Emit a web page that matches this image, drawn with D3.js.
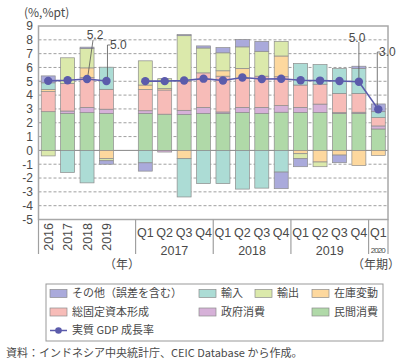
<!DOCTYPE html>
<html>
<head>
<meta charset="utf-8">
<script src="https://cdn.jsdelivr.net/npm/d3@7"></script>
<style>
  body { margin: 0; background: #fff; }
  text { font-family: "Noto Sans CJK JP", "Noto Sans", sans-serif; fill: #4a4a4a; }
  text.num { font-family: "Liberation Sans", Arial, sans-serif; }
</style>
</head>
<body>
<div id="chart"></div>
<script>
// Periods (annual + quarterly)
var periods = ["2016", "2017", "2018", "2019",
  "2017Q1", "2017Q2", "2017Q3", "2017Q4",
  "2018Q1", "2018Q2", "2018Q3", "2018Q4",
  "2019Q1", "2019Q2", "2019Q3", "2019Q4",
  "2020Q1"];
var annualLabels = ["2016", "2017", "2018", "2019"];
var quarterLabels = ["Q1", "Q2", "Q3", "Q4", "Q1", "Q2", "Q3", "Q4", "Q1", "Q2", "Q3", "Q4", "Q1"];
var yearGroups = [
  {label: "2017", first: "2017Q1", last: "2017Q4"},
  {label: "2018", first: "2018Q1", last: "2018Q4"},
  {label: "2019", first: "2019Q1", last: "2019Q4"},
  {label: "2020", first: "2020Q1", last: "2020Q1"}
];
var yTicks = [9, 8, 7, 6, 5, 4, 3, 2, 1, 0, -1, -2, -3, -4, -5];

// Contributions (%pt)
var privateCons = [2.8, 2.68, 2.73, 2.68, 2.68, 2.62, 2.6, 2.68, 2.68, 2.75, 2.68, 2.76, 2.75, 2.75, 2.68, 2.68, 1.55];
var government  = [0, 0.17, 0.38, 0.3, 0.19, -0.12, 0.3, 0.43, 0.1, 0.36, 0.43, 0.48, 0.36, 0.6, 0.05, 0.08, 0.22];
var gfcf        = [1.45, 2.0, 2.16, 1.44, 1.54, 1.75, 2.1, 2.5, 2.59, 2.1, 2.26, 2.09, 1.62, 1.44, 1.39, 1.36, 0.6];
var inventory   = [0.16, 0, 0.7, -0.6, 0.32, 0.1, -0.6, 0, 0.39, 0.72, 0, 1.5, -0.24, -0.84, -0.34, -1.1, -0.36];
var exportsC    = [-0.4, 1.85, 1.4, -0.15, 1.75, 0.72, 3.3, 1.8, 1.3, 1.56, 1.8, 1.06, -0.36, -0.34, 0, 0, 0];
var importsC    = [0.48, -1.6, -2.35, 1.6, -0.9, 0, -2.77, -2.4, -2.4, -2.8, -2.73, -1.57, 1.56, 1.42, 1.8, 1.8, 0.43];
var other       = [0.5, 0, 0.1, -0.25, -0.6, 0, 0.08, 0.15, 0.38, 0.53, 0.72, -1.2, -0.58, 0, -0.55, 0.17, 0.56];
// Real GDP growth (%)
var gdp = [5.03, 5.07, 5.17, 5.02, 5.01, 5.01, 5.06, 5.19, 5.06, 5.27, 5.17, 5.18, 5.07, 5.05, 5.02, 4.97, 2.97];

var series = [
  {key: "private", name: "民間消費", values: privateCons, color: "#b0d9a8"},
  {key: "gov", name: "政府消費", values: government, color: "#d6b1d8"},
  {key: "gfcf", name: "総固定資本形成", values: gfcf, color: "#f7bcb8"},
  {key: "inv", name: "在庫変動", values: inventory, color: "#fdd89e"},
  {key: "exp", name: "輸出", values: exportsC, color: "#dbe9ab"},
  {key: "imp", name: "輸入", values: importsC, color: "#acdcd5"},
  {key: "other", name: "その他（誤差を含む）", values: other, color: "#aaaadb"}
];

// Table for d3.stack
var table = periods.map(function(p, i) {
  var row = {period: p};
  series.forEach(function(s) { row[s.key] = s.values[i]; });
  return row;
});

var width = 400, height = 360;
var plot = {left: 38.5, right: 388, top: 26, bottom: 219.5};

var svg = d3.select("#chart").append("svg")
    .attr("width", width)
    .attr("height", height);

// x: band scale with one empty slot between annual and quarterly
var slots = periods.slice(0, 4).concat(["gap"]).concat(periods.slice(4));
var x = d3.scaleBand()
    .domain(slots)
    .range([plot.left, plot.right])
    .paddingInner(0.28)
    .paddingOuter(0.14);

var y = d3.scaleLinear()
    .domain([-5, 9])
    .range([plot.bottom, plot.top]);

// Grid lines
svg.append("g").selectAll("line")
    .data(yTicks.filter(function(d) { return d !== 9 && d !== -5; }))
  .enter().append("line")
    .attr("x1", plot.left).attr("x2", plot.right)
    .attr("y1", function(d) { return y(d); })
    .attr("y2", function(d) { return y(d); })
    .attr("stroke", "#888")
    .attr("stroke-width", function(d) { return d === 0 ? 1 : 0.8; })
    .attr("stroke-dasharray", function(d) { return d === 0 ? null : "3,2"; });

// Y tick labels
svg.append("g").selectAll("text")
    .data(yTicks)
  .enter().append("text")
    .attr("class", "num")
    .attr("x", 33)
    .attr("y", function(d) { return y(d); })
    .attr("dy", "0.36em")
    .attr("text-anchor", "end")
    .style("font-size", "12px")
    .text(function(d) { return d; });

svg.append("text")
    .attr("x", 24).attr("y", 17)
    .style("font-size", "12px")
    .text("(%,%pt)");

// Stacked bars
var stack = d3.stack()
    .keys(series.map(function(s) { return s.key; }))
    .offset(d3.stackOffsetDiverging);
var stacked = stack(table);

svg.append("g").selectAll("g")
    .data(stacked)
  .enter().append("g")
    .attr("fill", function(d, i) { return series[i].color; })
  .selectAll("rect")
    .data(function(d) { return d.filter(function(v) { return v[1] - v[0] !== 0; }); })
  .enter().append("rect")
    .attr("x", function(d) { return x(d.data.period); })
    .attr("width", x.bandwidth())
    .attr("y", function(d) { return y(d[1]); })
    .attr("height", function(d) { return y(d[0]) - y(d[1]); })
    .attr("stroke", "#8c8c8c")
    .attr("stroke-width", 0.7);

// Frame
svg.append("rect")
    .attr("x", plot.left).attr("y", plot.top)
    .attr("width", plot.right - plot.left)
    .attr("height", plot.bottom - plot.top)
    .attr("fill", "none")
    .attr("stroke", "#a8a8a8")
    .attr("stroke-width", 1.5);

// GDP line: annual and quarterly drawn separately
var line = d3.line()
    .x(function(d) { return x(d.period) + x.bandwidth() / 2; })
    .y(function(d) { return y(d.value); });
var gdpPts = periods.map(function(p, i) { return {period: p, value: gdp[i]}; });
[gdpPts.slice(0, 4), gdpPts.slice(4)].forEach(function(seg) {
  svg.append("path")
      .datum(seg)
      .attr("d", line)
      .attr("fill", "none")
      .attr("stroke", "#5b5bab")
      .attr("stroke-width", 1.6);
});
svg.append("g").selectAll("circle")
    .data(gdpPts)
  .enter().append("circle")
    .attr("cx", function(d) { return x(d.period) + x.bandwidth() / 2; })
    .attr("cy", function(d) { return y(d.value); })
    .attr("r", 4.2)
    .attr("fill", "#5b5bab");

// Value callouts
function cx(p) { return x(p) + x.bandwidth() / 2; }
var callouts = [
  {period: "2018", text: "5.2", tx: 95, ty: 35, path: function(p) { return "M" + (cx(p) + 6) + ",40L" + (cx(p) + 1) + "," + (y(gdp[2]) - 4); }, anchor: "middle"},
  {period: "2019", text: "5.0", tx: 110, ty: 45, path: function(p) { return "M" + (cx(p) + 4) + ",45H" + (cx(p) + 1) + "V" + (y(gdp[3]) - 4); }, anchor: "start"},
  {period: "2019Q4", text: "5.0", tx: 357, ty: 38, path: function(p) { return "M" + cx(p) + ",42V" + (y(gdp[15]) - 4); }, anchor: "middle"},
  {period: "2020Q1", text: "3.0", tx: 379, ty: 52, path: function(p) { return "M" + (cx(p) + 2) + ",52H" + (cx(p) - 1) + "V" + (y(gdp[16]) - 4); }, anchor: "start"}
];
callouts.forEach(function(c) {
  svg.append("path")
      .attr("d", c.path(c.period))
      .attr("fill", "none")
      .attr("stroke", "#555")
      .attr("stroke-width", 0.8);
  svg.append("text")
      .attr("class", "num")
      .attr("x", c.tx).attr("y", c.ty)
      .attr("dy", "0.36em")
      .attr("text-anchor", c.anchor)
      .style("font-size", "12px")
      .text(c.text);
});

// X axis: separators
var axisBottom = 254;
var seps = [plot.left, x("2017Q1") - x.step() * x.paddingInner() / 2];
yearGroups.forEach(function(g) {
  seps.push(x(g.last) + x.bandwidth() + x.step() * x.paddingInner() / 2);
});
seps[seps.length - 1] = plot.right;
svg.append("g").selectAll("line")
    .data(seps)
  .enter().append("line")
    .attr("x1", function(d) { return d; }).attr("x2", function(d) { return d; })
    .attr("y1", plot.bottom).attr("y2", axisBottom)
    .attr("stroke", "#a0a0a0")
    .attr("stroke-width", 1.2);

// Annual labels (rotated)
svg.append("g").selectAll("text")
    .data(annualLabels)
  .enter().append("text")
    .attr("class", "num")
    .attr("transform", function(d) { return "translate(" + (cx(d) + 4.5) + ",223) rotate(-90)"; })
    .attr("text-anchor", "end")
    .style("font-size", "12.5px")
    .text(function(d) { return d; });

// Quarter labels
svg.append("g").selectAll("text")
    .data(periods.slice(4))
  .enter().append("text")
    .attr("class", "num")
    .attr("x", function(d) { return cx(d); })
    .attr("y", 232)
    .attr("dy", "0.36em")
    .attr("text-anchor", "middle")
    .style("font-size", "12.5px")
    .text(function(d, i) { return quarterLabels[i]; });

// Year group labels
svg.append("g").selectAll("text")
    .data(yearGroups)
  .enter().append("text")
    .attr("class", "num")
    .attr("x", function(d) { return (x(d.first) + x(d.last) + x.bandwidth()) / 2; })
    .attr("y", 250)
    .attr("dy", "0.36em")
    .attr("text-anchor", "middle")
    .style("font-size", function(d) { return d.label === "2020" ? "8px" : "12.5px"; })
    .attr("textLength", function(d) { return d.label === "2020" ? 15 : null; })
    .text(function(d) { return d.label; });

svg.append("text")
    .attr("x", 122).attr("y", 265)
    .attr("dy", "0.36em")
    .attr("text-anchor", "middle")
    .style("font-size", "12px")
    .text("（年）");
svg.append("text")
    .attr("x", 376).attr("y", 265)
    .attr("dy", "0.36em")
    .attr("text-anchor", "middle")
    .style("font-size", "12px")
    .text("（年期）");

// Legend
var legend = svg.append("g");
legend.append("rect")
    .attr("x", 46).attr("y", 284)
    .attr("width", 337).attr("height", 57)
    .attr("fill", "none")
    .attr("stroke", "#999")
    .attr("stroke-width", 1);

var legendItems = [
  {key: "other", col: 50, row: 293.5},
  {key: "imp", col: 199, row: 293.5},
  {key: "exp", col: 255, row: 293.5},
  {key: "inv", col: 312, row: 293.5},
  {key: "gfcf", col: 50, row: 312},
  {key: "gov", col: 199, row: 312},
  {key: "private", col: 312, row: 312}
];
legendItems.forEach(function(item) {
  var s = series.filter(function(d) { return d.key === item.key; })[0];
  legend.append("rect")
      .attr("x", item.col).attr("y", item.row - 4)
      .attr("width", 17).attr("height", 8)
      .attr("fill", s.color)
      .attr("stroke", "#8c8c8c")
      .attr("stroke-width", 0.7);
  legend.append("text")
      .attr("x", item.col + 22).attr("y", item.row)
      .attr("dy", "0.36em")
      .style("font-size", "11px")
      .text(s.name);
});
legend.append("line")
    .attr("x1", 50).attr("x2", 67)
    .attr("y1", 330.5).attr("y2", 330.5)
    .attr("stroke", "#5b5bab")
    .attr("stroke-width", 1.5);
legend.append("circle")
    .attr("cx", 58.5).attr("cy", 330.5).attr("r", 3.3)
    .attr("fill", "#5b5bab");
legend.append("text")
    .attr("x", 72).attr("y", 330.5)
    .attr("dy", "0.36em")
    .style("font-size", "11px")
    .text("実質 GDP 成長率");

// Source
svg.append("text")
    .attr("x", 6).attr("y", 353)
    .attr("dy", "0.36em")
    .style("font-size", "11px")
    .text("資料：インドネシア中央統計庁、CEIC Database から作成。");
</script>
</body>
</html>
